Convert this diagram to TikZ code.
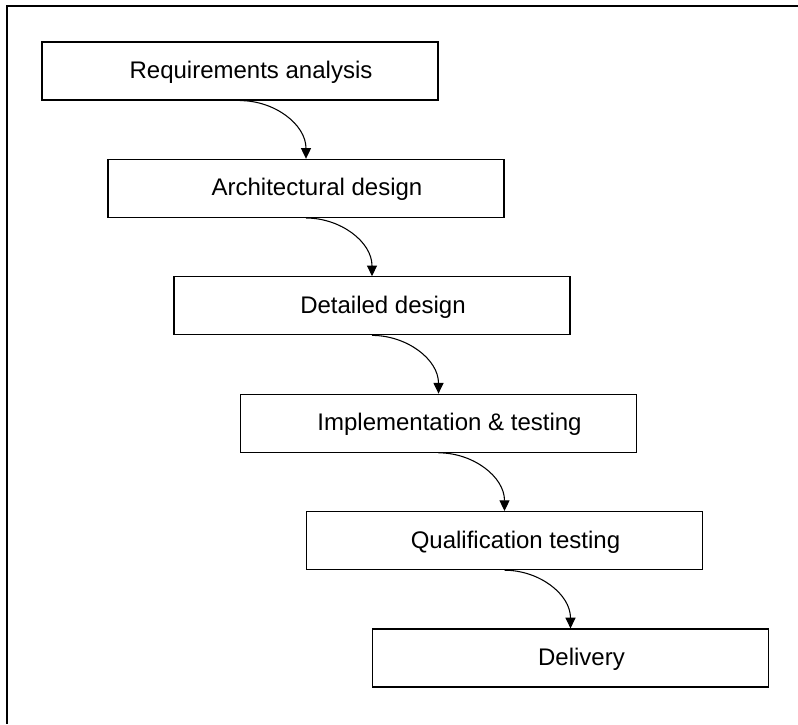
\documentclass[tikz,border=0pt]{standalone}
\usepackage{fontspec}
\setmainfont{Liberation Sans}
\usetikzlibrary{arrows.meta,calc}
\begin{document}
\begin{tikzpicture}[x=0.75pt,y=-0.75pt,
  stepbox/.style={draw=black,line width=0.9pt,minimum width=297pt,minimum height=43.5pt,inner sep=0pt,fill=white},
  steptext/.style={anchor=base,inner sep=0pt,font=\fontsize{18pt}{21pt}\selectfont},
  flow/.style={line width=0.8pt,-{Triangle[length=8pt,width=7.5pt]},out=0,in=90}]
\useasboundingbox (0,0) rectangle (798,724);
% frame
\draw[line width=1.6pt] (798,6) -- (7,6) -- (7,724);
% process steps
\node[stepbox] (s1) at (240,71) {};
\node[stepbox] (s2) at (306,188.4) {};
\node[stepbox] (s3) at (372,305.8) {};
\node[stepbox] (s4) at (438.5,423.2) {};
\node[stepbox] (s5) at (504.5,540.6) {};
\node[stepbox] (s6) at (570.5,658) {};
\node[steptext] (l1) at ($(s1.north)+(11,37)$) {Requirements analysis};
\node[steptext] (l2) at ($(s2.north)+(11,37)$) {Architectural design};
\node[steptext] (l3) at ($(s3.north)+(11,37)$) {Detailed design};
\node[steptext] (l4) at ($(s4.north)+(11,37)$) {Implementation \& testing};
\node[steptext] (l5) at ($(s5.north)+(11,37)$) {Qualification testing};
\node[steptext] (l6) at ($(s6.north)+(11,37)$) {Delivery};
% connectors
\draw[flow] (s1.south) to (s2.north);
\draw[flow] (s2.south) to (s3.north);
\draw[flow] (s3.south) to (s4.north);
\draw[flow] (s4.south) to (s5.north);
\draw[flow] (s5.south) to (s6.north);
\end{tikzpicture}
\end{document}
